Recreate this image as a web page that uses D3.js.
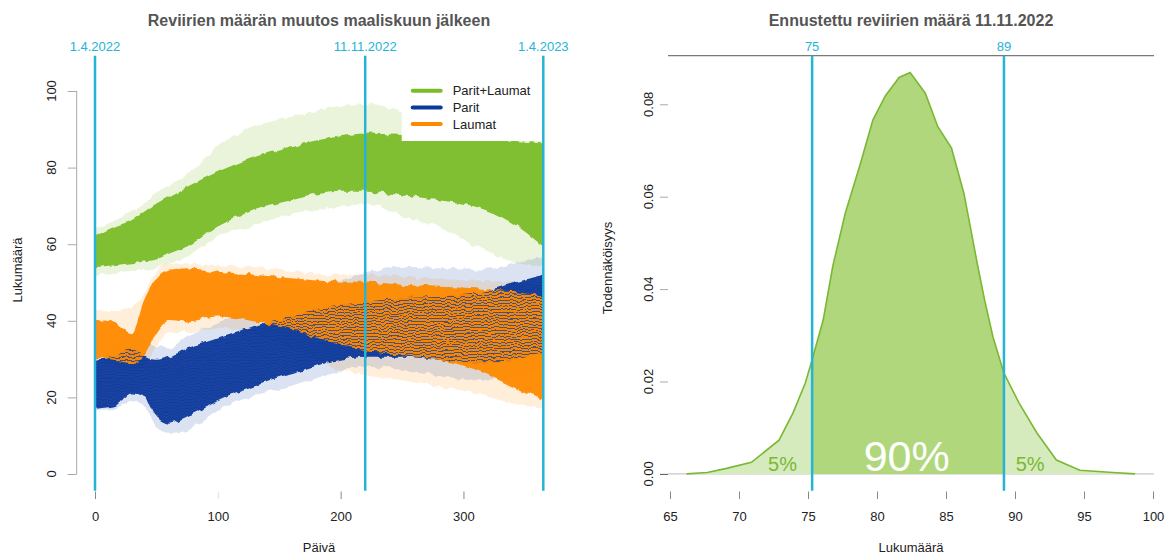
<!DOCTYPE html>
<html>
<head>
<meta charset="utf-8">
<script src="https://cdn.jsdelivr.net/npm/d3@7"></script>
<style>
  html, body { margin: 0; padding: 0; background: #fff; }
  svg { display: block; font-family: "Liberation Sans", Arial, sans-serif; }
</style>
</head>
<body>
<svg id="chart" width="1167" height="557"></svg>
<script>
// ---- Simulated trajectories: envelopes of the simulation runs per day ----
const days = [0, 15, 30, 40, 50, 60, 75, 100, 130, 160, 200, 220, 250, 280, 310, 340, 365];

// Parit+Laumat (total)
const totalCoreHi  = [62, 64.5, 66.3, 68.5, 70.6, 72.4, 75, 78.9, 82.8, 85.6, 88.2, 88.9, 88.5, 88, 87.5, 87, 86.3];
const totalCoreLo  = [54, 54.5, 55, 55.5, 56, 57.5, 59.4, 64.6, 68.9, 71.5, 73.7, 73.7, 72.8, 71.5, 69.8, 65.5, 59.4];
const totalFaintHi = [64, 66, 68.5, 70.5, 73.7, 75.5, 78, 85.5, 90.7, 93.3, 95.9, 96.8, 95, 94, 92, 90, 89];
const totalFaintLo = [52, 52.5, 53, 53, 54, 55, 56.7, 62, 65, 68, 69.8, 70.6, 67.2, 64.6, 59.4, 55.5, 54.5];

// Laumat (packs)
const packCoreHi  = [40.2, 39.8, 37, 45.4, 51.1, 53.3, 53.7, 52.8, 52, 51.1, 50.2, 50.2, 49.4, 48.9, 48.5, 47.6, 46.3];
const packCoreLo  = [30.6, 29.8, 28.9, 30.6, 37, 40.2, 39.8, 41.1, 39.8, 37.6, 33.7, 32.4, 31.1, 29.8, 27.2, 22.8, 19.3];
const packFaintHi = [42.8, 42.8, 43.7, 47, 53, 55, 55, 54.5, 54, 53, 52, 52, 51.5, 51, 50.5, 50, 49];
const packFaintLo = [29.8, 28.5, 27.5, 28.5, 33, 37, 37, 38, 36.5, 33, 27.2, 25.8, 24.5, 22.8, 21.1, 18.4, 17.1];

// Parit (pairs)
const pairCoreHi  = [29.8, 30.6, 32.4, 30.6, 29.8, 30.6, 32.8, 35.4, 38.4, 41.1, 44.1, 45, 45.9, 46.3, 47.2, 49.8, 52];
const pairCoreLo  = [17.1, 17.6, 21.1, 20.2, 15, 13.2, 15, 19.3, 23.2, 26.3, 29.8, 30.6, 30.6, 29.8, 28.9, 29.8, 31.5];
const pairFaintHi = [30.6, 32, 36, 35, 33, 33, 36, 39.3, 44.6, 48, 50.6, 52.4, 54.1, 53.7, 53.3, 55, 56.7];
const pairFaintLo = [16.7, 17, 19, 18, 12.4, 11, 11.5, 16.7, 20.5, 22.8, 27, 28, 27.2, 25.8, 24.5, 25.4, 27.2];

const dayTicks = [0, 100, 200, 300];
const countTicks = [0, 20, 40, 60, 80, 100];
const dateMarks = [{ day: 0, label: "1.4.2022" }, { day: 220, label: "11.11.2022" }, { day: 365, label: "1.4.2023" }];
const legendLabels = ["Parit+Laumat", "Parit", "Laumat"];

// ---- Predicted number of territories on 11.11.2022 (density) ----
const densX = [66.2, 67.7, 69.1, 70.9, 72.9, 73.9, 74.8, 75.3, 76.1, 76.8, 77.7, 78.8, 79.7, 80.6, 81.6, 82.4,
               83.5, 84.4, 85.4, 86.3, 86.9, 87.3, 87.8, 88.4, 89.2, 90.3, 91.6, 93.0, 94.7, 97.1, 98.7];
const densY = [0, 0.0003, 0.0012, 0.0025, 0.0073, 0.0131, 0.0196, 0.0247, 0.0333, 0.045, 0.0564, 0.0672, 0.0766, 0.0818, 0.0858, 0.0869,
               0.0824, 0.0752, 0.0705, 0.0607, 0.0513, 0.045, 0.0376, 0.0297, 0.0218, 0.0153, 0.0088, 0.003, 0.0008, 0.0003, 0];
const interval = [75.3, 89.2];
const intervalLabels = ["75", "89"];
const countTicksR = [65, 70, 75, 80, 85, 90, 95, 100];
const probTicks = [0, 0.02, 0.04, 0.06, 0.08];

// ---- colours ----
const C = {
  total: "#7abd27", pair: "#0a3a9c", pack: "#ff8a00",
  cyan: "#25b4d6", title: "#555555", text: "#222222",
  densMid: "#b0d77c", densTail: "#d5ebbd", densLine: "#7ab833"
};

const svg = d3.select("#chart");
const defs = svg.append("defs");

// fine horizontal hatching used where pair runs overlay pack runs
defs.append("pattern")
  .attr("id", "pairStripes").attr("patternUnits", "userSpaceOnUse")
  .attr("width", 6).attr("height", 3)
  .append("rect").attr("width", 6).attr("height", 1).attr("fill", C.pair).attr("opacity", 0.7);

// ragged, walk-like edges for the run envelopes (vertical jitter only)
const rough = defs.append("filter").attr("id", "rough")
  .attr("filterUnits", "userSpaceOnUse").attr("x", 80).attr("y", 60).attr("width", 480).attr("height", 440);
rough.append("feTurbulence").attr("type", "fractalNoise").attr("baseFrequency", "0.13 0.05")
  .attr("numOctaves", 2).attr("seed", 3).attr("result", "noise");
rough.append("feColorMatrix").attr("in", "noise").attr("type", "matrix")
  .attr("values", "0 0 0 0 0.5  0 1 0 0 0  0 0 0 0 0  0 0 0 0 1").attr("result", "vnoise");
rough.append("feDisplacementMap").attr("in", "SourceGraphic").attr("in2", "vnoise")
  .attr("scale", 7).attr("xChannelSelector", "R").attr("yChannelSelector", "G");

defs.append("clipPath").attr("id", "dayClip").append("rect")
  .attr("x", 95).attr("y", 60).attr("width", 448.3).attr("height", 430);

// ================= Left panel =================
const xL = d3.scaleLinear().domain([0, 365]).range([95, 543.3]);
const yL = d3.scaleLinear().domain([0, 100]).range([474, 91]);

const left = svg.append("g");

function band(lo, hi) {
  return days.map((d, i) => ({ day: d, lo: lo[i], hi: hi[i] }));
}
const bandArea = d3.area()
  .x(d => xL(d.day)).y0(d => yL(d.lo)).y1(d => yL(d.hi))
  .curve(d3.curveMonotoneX);

const trajLayer = left.append("g").attr("clip-path", "url(#dayClip)")
  .append("g").attr("filter", "url(#rough)");
// total
trajLayer.append("path").attr("d", bandArea(band(totalFaintLo, totalFaintHi))).attr("fill", C.total).attr("opacity", 0.17);
trajLayer.append("path").attr("d", bandArea(band(totalCoreLo, totalCoreHi))).attr("fill", C.total).attr("opacity", 0.95);
// faint outer runs of packs and pairs
trajLayer.append("path").attr("d", bandArea(band(packFaintLo, packFaintHi))).attr("fill", C.pack).attr("opacity", 0.15);
trajLayer.append("path").attr("d", bandArea(band(pairFaintLo, pairFaintHi))).attr("fill", C.pair).attr("opacity", 0.14);
// dense runs
trajLayer.append("path").attr("d", bandArea(band(pairCoreLo, pairCoreHi))).attr("fill", C.pair).attr("opacity", 0.95);
trajLayer.append("path").attr("d", bandArea(band(packCoreLo, packCoreHi))).attr("fill", C.pack).attr("opacity", 0.95);
trajLayer.append("path").attr("d", bandArea(band(pairCoreLo, pairCoreHi))).attr("fill", "url(#pairStripes)");

// legend
const legendG = left.append("g");
legendG.append("rect").attr("x", 401.7).attr("y", 74).attr("width", 144).attr("height", 67).attr("fill", "#fff");
const legendColors = [C.total, C.pair, C.pack];
legendLabels.forEach((lab, i) => {
  const y = 90.7 + i * 16.7;
  legendG.append("line").attr("x1", 412.7).attr("x2", 440.7).attr("y1", y).attr("y2", y)
    .attr("stroke", legendColors[i]).attr("stroke-width", 4).attr("stroke-linecap", "round");
  legendG.append("text").attr("x", 452.7).attr("y", y + 4.6).attr("font-size", 13).attr("fill", C.text).text(lab);
});

// date markers
dateMarks.forEach(m => {
  left.append("line").attr("x1", xL(m.day)).attr("x2", xL(m.day)).attr("y1", 55.7).attr("y2", 490.7)
    .attr("stroke", C.cyan).attr("stroke-width", 2.5);
  left.append("text").attr("x", xL(m.day)).attr("y", 51).attr("text-anchor", "middle")
    .attr("font-size", 13).attr("fill", C.cyan).text(m.label);
});

// axes
const axL = left.append("g").attr("transform", "translate(76.7,0)")
  .call(d3.axisLeft(yL).tickValues(countTicks).tickSize(9).tickFormat(""));
axL.select(".domain").attr("stroke", "#aaa").attr("d", `M0,${yL(100)}V${yL(0)}`);
axL.selectAll(".tick line").attr("stroke", "#aaa");
countTicks.forEach(v => {
  left.append("text").attr("transform", `translate(56.3,${yL(v)}) rotate(-90)`)
    .attr("text-anchor", "middle").attr("font-size", 13).attr("fill", C.text).text(v);
});

const axB = left.append("g").attr("transform", "translate(0,491.5)")
  .call(d3.axisBottom(xL).tickValues(dayTicks).tickSize(7.5).tickPadding(13));
axB.select(".domain").remove();
axB.selectAll(".tick line").attr("stroke", (d) => d === 100 ? "#e2e2e2" : "#888");
axB.selectAll(".tick text").attr("font-size", 13).attr("fill", C.text).attr("font-family", "Liberation Sans, Arial, sans-serif");

left.append("text").attr("x", 319).attr("y", 26).attr("text-anchor", "middle")
  .attr("font-size", 16).attr("font-weight", "bold").attr("fill", C.title)
  .text("Reviirien määrän muutos maaliskuun jälkeen");
left.append("text").attr("x", 319).attr("y", 552).attr("text-anchor", "middle")
  .attr("font-size", 13).attr("fill", C.text).text("Päivä");
left.append("text").attr("transform", "translate(22,270) rotate(-90)").attr("text-anchor", "middle")
  .attr("font-size", 13).attr("fill", C.text).text("Lukumäärä");

// ================= Right panel =================
const xR = d3.scaleLinear().domain([65, 100]).range([670, 1153]);
const yR = d3.scaleLinear().domain([0, 0.08]).range([473.9, 104.3]);
const right = svg.append("g");

const dens = densX.map((x, i) => ({ x, y: densY[i] }));
const densArea = d3.area().x(d => xR(d.x)).y0(yR(0)).y1(d => yR(d.y));
const densLine = d3.line().x(d => xR(d.x)).y(d => yR(d.y));

defs.append("clipPath").attr("id", "midClip").append("rect")
  .attr("x", xR(interval[0])).attr("y", 0)
  .attr("width", xR(interval[1]) - xR(interval[0])).attr("height", 557);

// baseline
right.append("line").attr("x1", 668).attr("x2", 1154).attr("y1", yR(0)).attr("y2", yR(0))
  .attr("stroke", "#c8c8c8").attr("stroke-width", 1.2);
right.append("path").attr("d", densArea(dens)).attr("fill", C.densTail);
right.append("path").attr("d", densArea(dens)).attr("fill", C.densMid).attr("clip-path", "url(#midClip)");
right.append("path").attr("d", densLine(dens)).attr("fill", "none").attr("stroke", C.densLine).attr("stroke-width", 1.6);

// top frame line
right.append("line").attr("x1", 668).attr("x2", 1154).attr("y1", 55.7).attr("y2", 55.7)
  .attr("stroke", "#7a7a7a").attr("stroke-width", 1.3);

// interval markers
interval.forEach((v, i) => {
  right.append("line").attr("x1", xR(v)).attr("x2", xR(v)).attr("y1", 55.7).attr("y2", 490.7)
    .attr("stroke", C.cyan).attr("stroke-width", 2.5);
  right.append("text").attr("x", xR(v)).attr("y", 51).attr("text-anchor", "middle")
    .attr("font-size", 13).attr("fill", C.cyan).text(intervalLabels[i]);
});

// share labels
right.append("text").attr("x", xR(82.15)).attr("y", 470.7).attr("text-anchor", "middle")
  .attr("font-size", 43).attr("fill", "#fff").text("90%");
right.append("text").attr("x", xR(73.15)).attr("y", 470.7).attr("text-anchor", "middle")
  .attr("font-size", 20).attr("fill", C.densLine).text("5%");
right.append("text").attr("x", xR(91.1)).attr("y", 470.7).attr("text-anchor", "middle")
  .attr("font-size", 20).attr("fill", C.densLine).text("5%");

// axes
const axRL = right.append("g").attr("transform", "translate(668,0)")
  .call(d3.axisLeft(yR).tickValues(probTicks).tickSize(8).tickFormat(""));
axRL.select(".domain").remove();
axRL.selectAll(".tick line").attr("stroke", d => d === 0 ? "#555" : "#aaa");
probTicks.forEach(v => {
  right.append("text").attr("transform", `translate(652.5,${yR(v)}) rotate(-90)`)
    .attr("text-anchor", "middle").attr("font-size", 13).attr("fill", C.text).text(d3.format(".2f")(v));
});

const axRB = right.append("g").attr("transform", "translate(0,491.5)")
  .call(d3.axisBottom(xR).tickValues(countTicksR).tickSize(7.5).tickPadding(13));
axRB.select(".domain").remove();
axRB.selectAll(".tick line").attr("stroke", "#888");
axRB.selectAll(".tick text").attr("font-size", 13).attr("fill", C.text).attr("font-family", "Liberation Sans, Arial, sans-serif");

right.append("text").attr("x", 911).attr("y", 26).attr("text-anchor", "middle")
  .attr("font-size", 16).attr("font-weight", "bold").attr("fill", C.title)
  .text("Ennustettu reviirien määrä 11.11.2022");
right.append("text").attr("x", 911).attr("y", 552).attr("text-anchor", "middle")
  .attr("font-size", 13).attr("fill", C.text).text("Lukumäärä");
right.append("text").attr("transform", "translate(612,268) rotate(-90)").attr("text-anchor", "middle")
  .attr("font-size", 13).attr("fill", C.text).text("Todennäköisyys");
</script>
</body>
</html>
